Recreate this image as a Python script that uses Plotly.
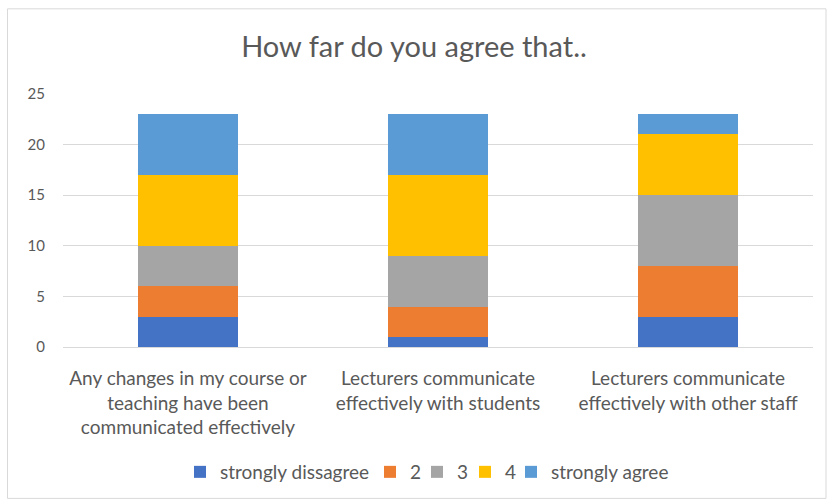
import plotly.graph_objects as go

categories = ["Any changes in my course or<br>teaching have been<br>communicated effectively",
              "Lecturers communicate<br>effectively with students",
              "Lecturers communicate<br>effectively with other staff"]
series_names = ["strongly dissagree", "2", "3", "4", "strongly agree"]
strongly_disagree = [3, 1, 3]
s2 = [3, 3, 5]
s3 = [4, 5, 7]
s4 = [7, 8, 6]
strongly_agree = [6, 6, 2]
colors = ["#4472C4", "#ED7D31", "#A5A5A5", "#FFC000", "#5B9BD5"]
y_ticks = [0, 5, 10, 15, 20, 25]

values = [strongly_disagree, s2, s3, s4, strongly_agree]

W, H = 828, 502
l, r, t, b = 63, 15, 94, 154
pw, ph = W - l - r, H - t - b

def px_x(x):
    return (x - l) / pw

def px_y(y):
    return (H - b - y) / ph

# left edges (px) of each legend marker in the reference
legend_left_px = [195, 385, 432, 480, 526]

fig = go.Figure()
legend_layouts = {}
for i, (name, vals, col) in enumerate(zip(series_names, values, colors)):
    lname = "legend" if i == 0 else f"legend{i + 1}"
    fig.add_trace(go.Bar(x=categories, y=vals, name=name, marker_color=col,
                         marker_line_width=0, legend=lname))
    legend_layouts[lname] = dict(
        orientation="h", x=px_x(legend_left_px[i] - 15), xanchor="left",
        y=px_y(472), yanchor="middle", bgcolor="rgba(0,0,0,0)",
        font=dict(size=19, color="#595959"), itemwidth=30)

fig.update_layout(
    width=W, height=H,
    margin=dict(l=l, r=r, t=t, b=b),
    barmode="stack", bargap=0.6,
    plot_bgcolor="white", paper_bgcolor="white",
    font=dict(family="Lato, Carlito, Noto Sans, sans-serif", color="#595959"),
    title=dict(text="How far do you agree that..", x=0.5, xanchor="center",
               y=1 - 47 / H, yanchor="middle",
               font=dict(size=29, color="#595959")),
    xaxis=dict(showline=True, linecolor="#D9D9D9", linewidth=1,
               tickfont=dict(size=19, color="#595959"), ticks="",
               showgrid=False, ticklabelstandoff=14),
    yaxis=dict(range=[0, 25], tickvals=y_ticks, showgrid=True,
               gridcolor="#D9D9D9", gridwidth=1, zeroline=False,
               tickfont=dict(size=15, color="#595959"), ticks="",
               ticklabelstandoff=17),
    showlegend=True,
    shapes=[dict(type="rect", xref="paper", yref="paper",
                 x0=px_x(7.5), x1=px_x(826), y0=px_y(500), y1=px_y(8.5),
                 line=dict(color="#D9D9D9", width=1), layer="below")],
    **legend_layouts,
)

fig.write_html("out.html", config={"displayModeBar": False},
               post_script="document.body.style.margin='0';")
